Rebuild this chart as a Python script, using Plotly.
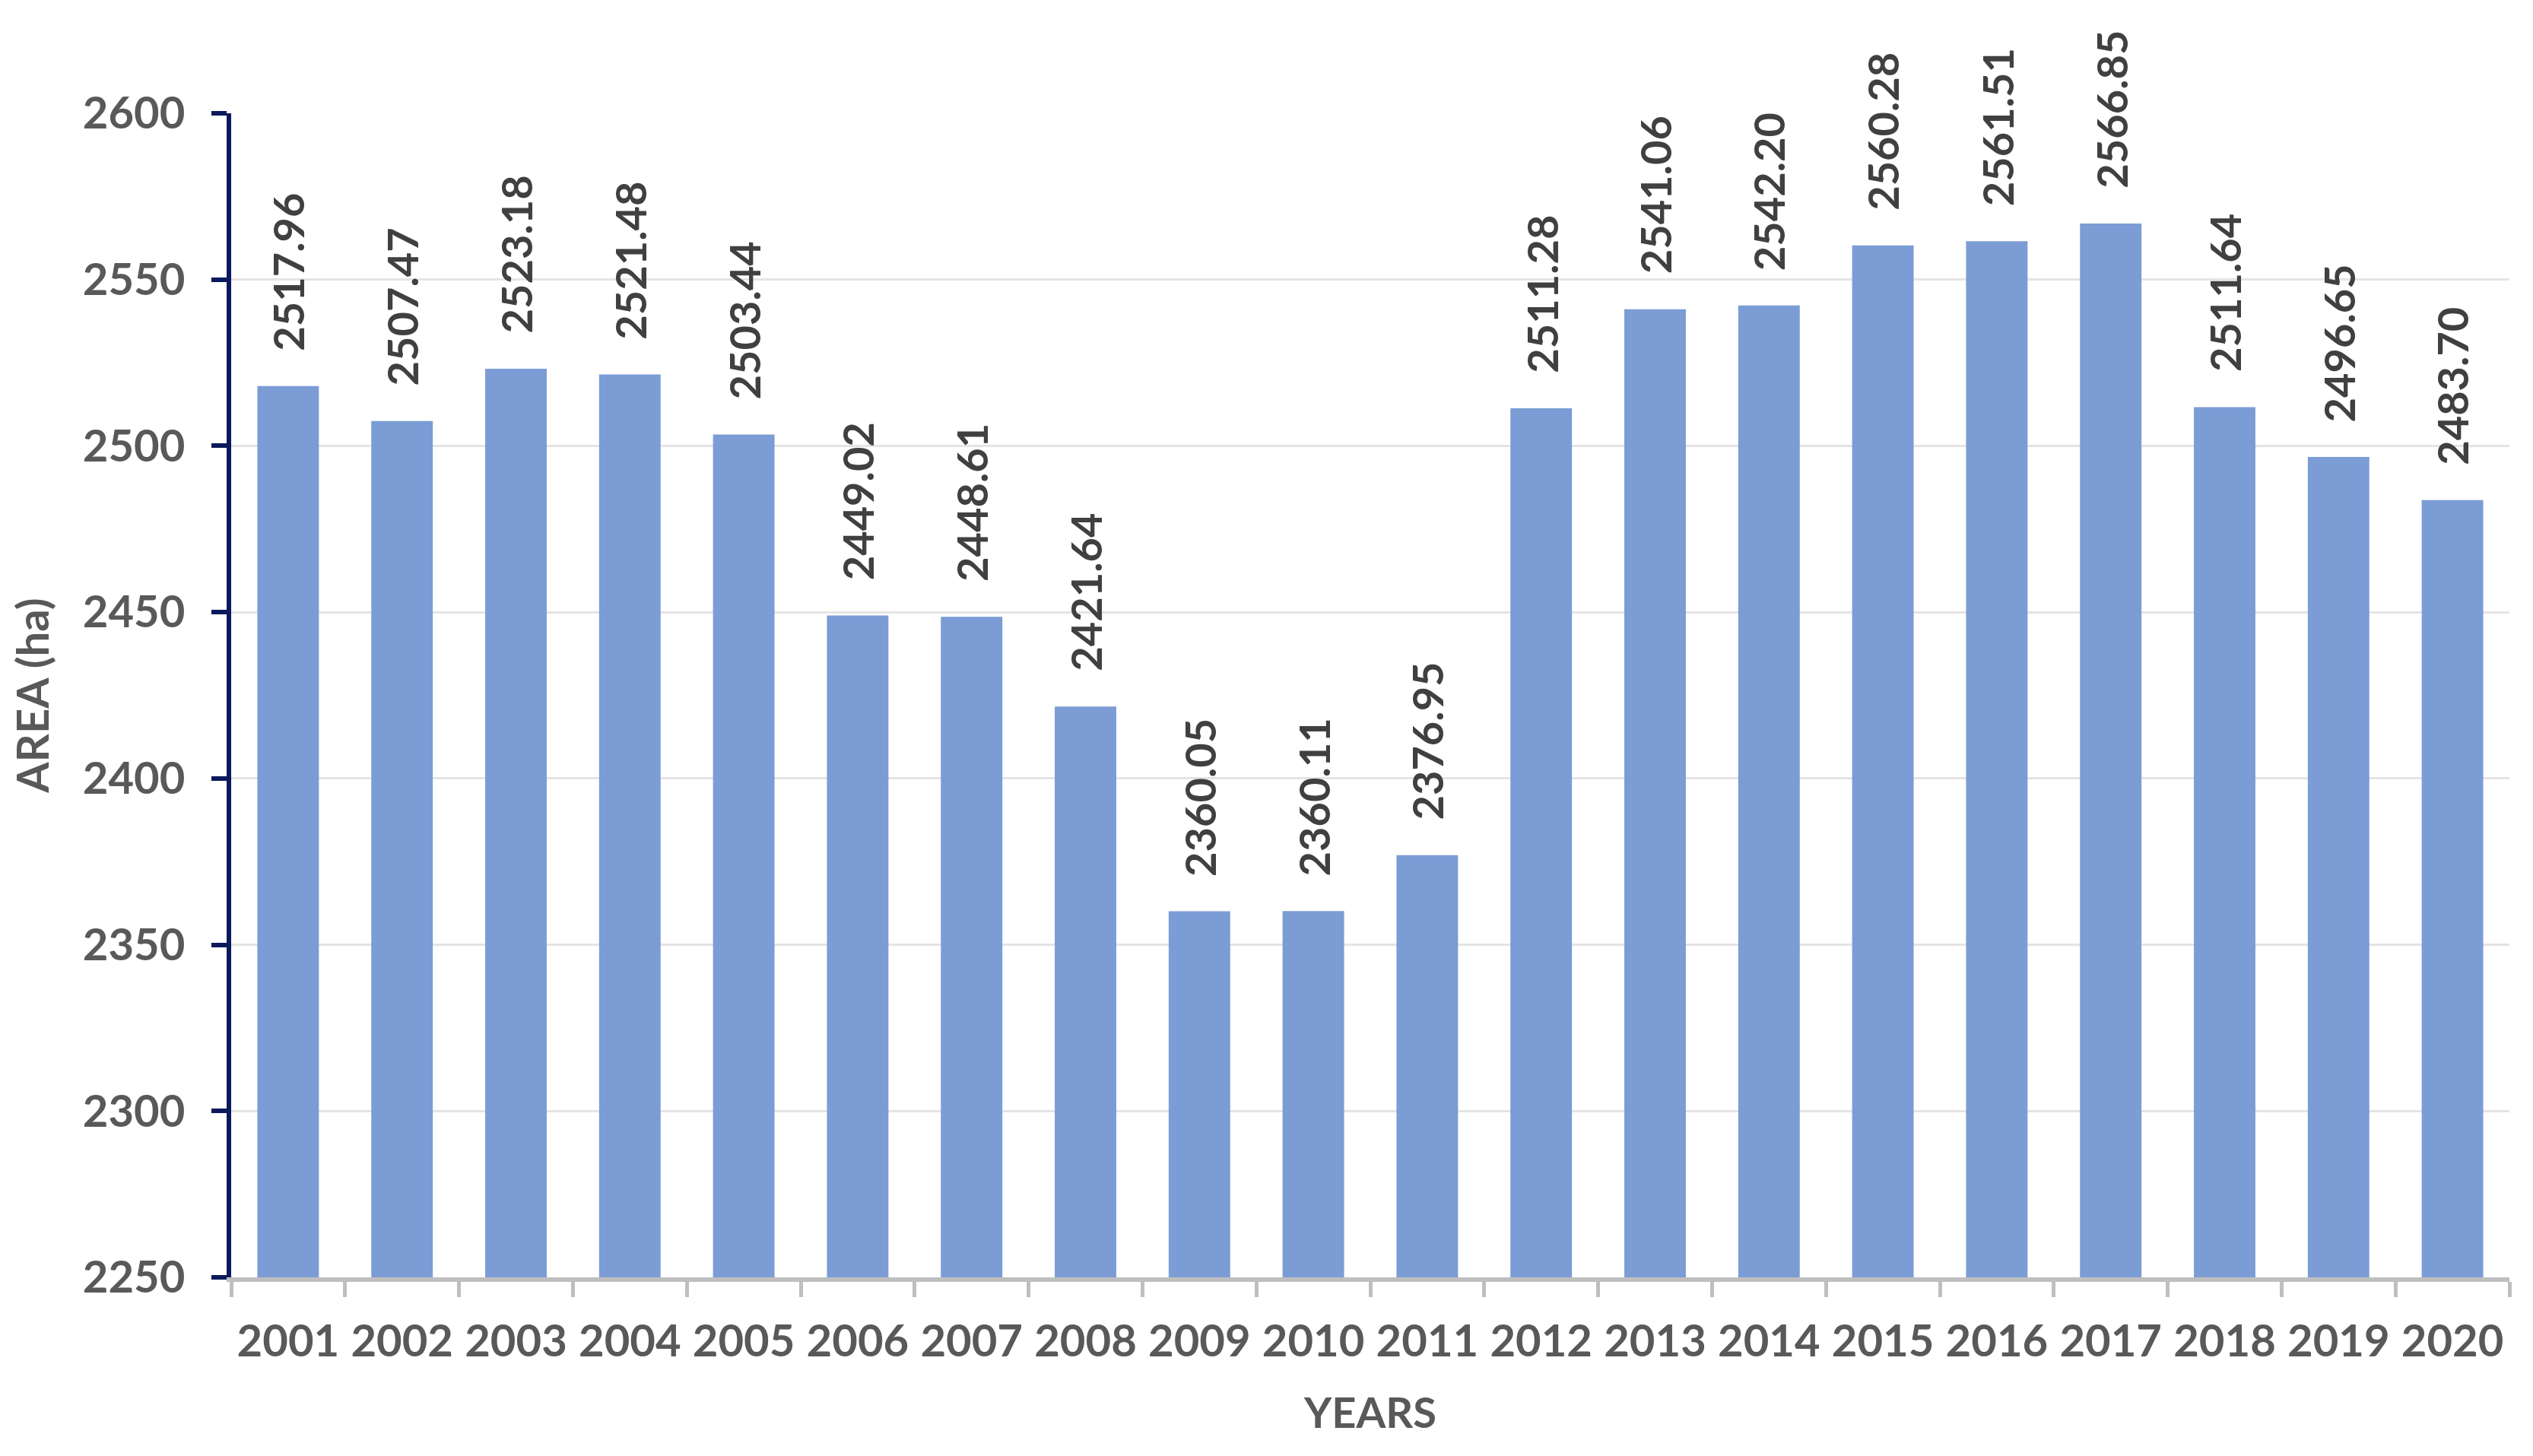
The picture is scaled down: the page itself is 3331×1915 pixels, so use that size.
import plotly.graph_objects as go

years = [str(y) for y in range(2001, 2021)]
area = [2517.96, 2507.47, 2523.18, 2521.48, 2503.44, 2449.02, 2448.61, 2421.64,
        2360.05, 2360.11, 2376.95, 2511.28, 2541.06, 2542.20, 2560.28, 2561.51,
        2566.85, 2511.64, 2496.65, 2483.70]
y_ticks = [2250, 2300, 2350, 2400, 2450, 2500, 2550, 2600]

FONT = "Lato"
BAR_COLOR = "#7B9CD5"
TICK_COLOR = "#595959"
LABEL_COLOR = "#404040"

fig = go.Figure()
fig.add_trace(go.Bar(
    x=years, y=area,
    marker=dict(color=BAR_COLOR, line=dict(width=0)),
    hoverinfo="x+y",
))

# category serial index used for annotation position (numeric-looking names
# would otherwise be read as serial numbers)
for i, v in enumerate(area):
    fig.add_annotation(
        x=i, y=v, text=f"{v:.2f}", textangle=-90,
        xanchor="center", yanchor="bottom", yshift=44, showarrow=False,
        font=dict(family=FONT, size=56, color=LABEL_COLOR, weight="bold"),
    )

fig.update_layout(
    width=3331, height=1915,
    margin=dict(l=304, r=31, t=149, b=235),
    paper_bgcolor="white", plot_bgcolor="white",
    bargap=0.46, showlegend=False,
    font=dict(family=FONT, size=56, color=TICK_COLOR),
)

fig.update_yaxes(
    range=[2250, 2600], tickvals=y_ticks, ticktext=[str(t) for t in y_ticks],
    showgrid=True, gridcolor="#E4E4E4", gridwidth=3,
    showline=True, linecolor="#0B1A5C", linewidth=6,
    ticks="outside", ticklen=20, tickwidth=6, tickcolor="#0B1A5C",
    ticklabelstandoff=23, zeroline=False,
    tickfont=dict(family=FONT, size=58, color=TICK_COLOR, weight="bold"),
    title=dict(text="AREA (ha)", standoff=28,
               font=dict(family=FONT, size=58, color=TICK_COLOR, weight="bold")),
)

fig.update_xaxes(
    type="category", range=[-0.5, len(years) - 0.5],
    showline=True, linecolor="#BFBFBF", linewidth=6,
    ticks="outside", tickson="boundaries", ticklen=20, tickwidth=5, tickcolor="#BFBFBF",
    ticklabelstandoff=28, showgrid=False, tickangle=0,
    tickfont=dict(family=FONT, size=58, color=TICK_COLOR, weight="bold"),
    title=dict(text="YEARS", standoff=46,
               font=dict(family=FONT, size=56, color=TICK_COLOR, weight="bold")),
)

fig.write_html("out.html")
